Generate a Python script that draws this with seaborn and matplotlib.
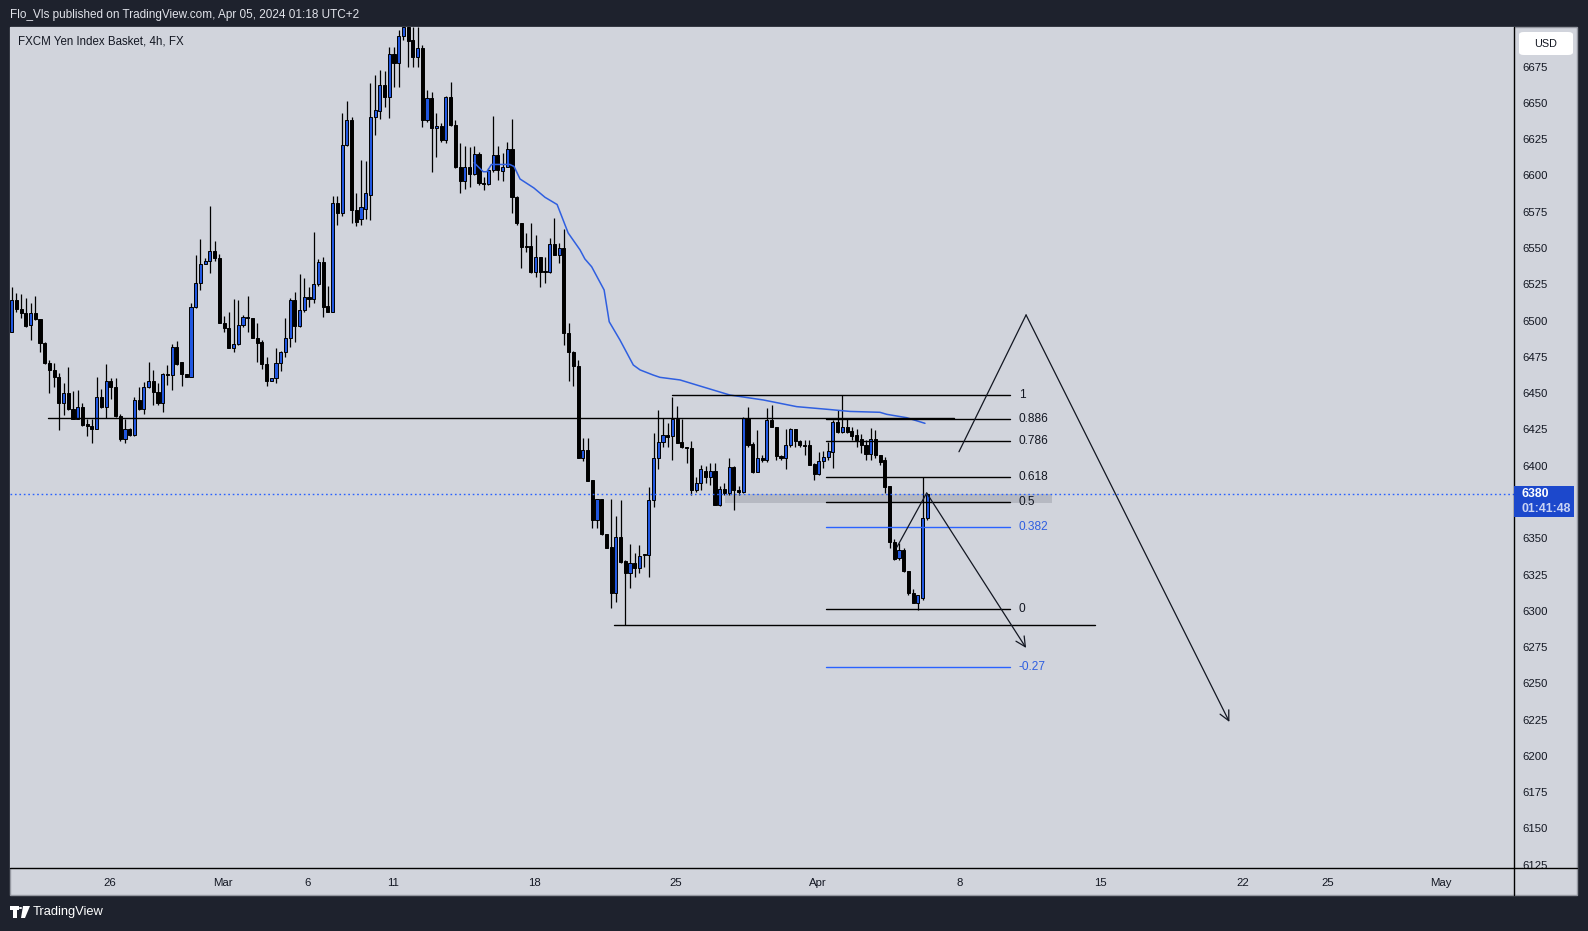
import numpy as np
import pandas as pd
import matplotlib
matplotlib.use("Agg")
import matplotlib.pyplot as plt
import seaborn as sns
from matplotlib.patches import Rectangle, FancyBboxPatch, Polygon
from matplotlib.lines import Line2D

# ---------------- data ----------------
opens = [6492.4, 6514.2, 6507.8, 6505.5, 6497.0, 6505.5, 6500.9, 6484.8, 6471.0, 6466.0,
         6460.9, 6443.5, 6449.9, 6438.9, 6432.2, 6440.3, 6428.5, 6427.4, 6425.1, 6447.2,
         6440.3, 6458.4, 6454.1, 6434.3, 6418.2, 6425.1, 6421.0, 6445.3, 6438.9, 6454.1,
         6458.4, 6451.1, 6443.5, 6463.2, 6462.8, 6481.6, 6471.3, 6463.2, 6461.4, 6509.2,
         6525.7, 6538.8, 6541.1, 6548.0, 6542.9, 6498.6, 6494.7, 6480.9, 6483.9, 6497.0,
         6502.0, 6501.6, 6487.8, 6485.0, 6470.1, 6458.6, 6460.2, 6471.0, 6478.1, 6487.8,
         6514.2, 6496.5, 6507.3, 6516.5, 6514.7, 6525.0, 6540.2, 6510.1, 6505.7, 6580.8,
         6574.0, 6621.1, 6638.3, 6576.3, 6569.8, 6577.0, 6586.8, 6640.1, 6644.7, 6662.4,
         6654.4, 6683.8, 6677.8, 6696.2, 6702.6, 6693.4, 6681.9, 6687.7, 6638.3, 6653.2,
         6632.5, 6634.4, 6624.5, 6654.4, 6634.8, 6605.7, 6596.5, 6606.1, 6601.1, 6614.6,
         6595.1, 6594.2, 6603.8, 6614.2, 6603.3, 6606.1, 6618.3, 6585.4, 6567.5, 6551.6,
         6551.4, 6533.7, 6543.6, 6534.4, 6533.7, 6552.5, 6545.2, 6549.8, 6491.2, 6478.6,
         6468.9, 6405.1, 6410.8, 6390.2, 6362.6, 6376.8, 6352.7, 6343.8, 6312.1, 6350.6,
         6334.3, 6325.8, 6332.7, 6329.3, 6338.5, 6338.5, 6376.4, 6405.1, 6416.6, 6421.2,
         6420.5, 6431.9, 6416.6, 6413.1, 6412.0, 6383.3, 6387.9, 6396.6, 6392.5, 6396.6,
         6373.0, 6384.0, 6381.0, 6398.9, 6383.3, 6381.7, 6432.7, 6415.0, 6395.9, 6405.1,
         6404.0, 6431.5, 6426.9, 6406.7, 6405.1, 6414.3, 6425.1, 6417.1, 6414.3, 6414.3,
         6401.2, 6394.3, 6403.3, 6405.8, 6409.7, 6429.9, 6423.5, 6426.9, 6424.0, 6421.2,
         6418.2, 6414.3, 6408.1, 6418.2, 6407.4, 6404.0, 6386.0, 6347.7, 6336.2, 6341.9,
         6327.7, 6312.1, 6305.7, 6308.6, 6363.8]
highs = [6523.4, 6518.8, 6518.4, 6515.4, 6511.9, 6517.0, 6500.9, 6485.5, 6472.9, 6471.0,
         6463.7, 6456.8, 6467.8, 6451.7, 6452.2, 6443.0, 6432.2, 6432.0, 6461.4, 6452.7,
         6470.1, 6460.3, 6460.3, 6435.7, 6432.0, 6425.8, 6447.6, 6454.5, 6457.9, 6471.7,
         6466.0, 6457.3, 6463.7, 6469.4, 6483.9, 6486.2, 6471.3, 6463.2, 6511.9, 6545.2,
         6556.0, 6542.9, 6579.0, 6554.9, 6545.9, 6503.2, 6506.2, 6514.9, 6514.2, 6503.9,
         6517.0, 6502.0, 6498.1, 6486.6, 6475.2, 6460.2, 6480.9, 6479.0, 6502.0, 6515.4,
         6519.9, 6532.1, 6529.1, 6522.9, 6560.8, 6542.5, 6543.6, 6523.9, 6585.9, 6585.9,
         6642.9, 6651.4, 6640.1, 6588.0, 6610.7, 6610.0, 6663.6, 6669.3, 6672.7, 6672.3,
         6688.8, 6688.8, 6700.3, 6710.0, 6710.0, 6702.6, 6702.6, 6690.0, 6659.0, 6657.8,
         6642.9, 6636.0, 6654.8, 6664.7, 6638.3, 6622.7, 6620.0, 6619.5, 6620.0, 6616.5,
         6599.3, 6605.0, 6641.0, 6620.0, 6615.3, 6623.4, 6639.0, 6585.9, 6567.5, 6560.1,
         6567.0, 6559.0, 6543.6, 6544.0, 6557.1, 6570.5, 6553.2, 6562.9, 6498.1, 6479.0,
         6472.8, 6418.9, 6418.9, 6390.2, 6376.8, 6376.8, 6352.7, 6377.1, 6365.3, 6376.4,
         6335.0, 6346.0, 6339.6, 6345.3, 6338.5, 6385.0, 6422.4, 6438.4, 6432.6, 6429.2,
         6447.6, 6441.1, 6431.9, 6413.1, 6417.1, 6392.5, 6400.5, 6399.8, 6401.7, 6402.1,
         6386.0, 6387.9, 6405.1, 6399.8, 6386.0, 6433.8, 6440.7, 6416.6, 6424.6, 6407.4,
         6439.6, 6441.9, 6426.9, 6407.4, 6425.1, 6426.3, 6425.1, 6417.8, 6417.8, 6417.8,
         6401.7, 6409.7, 6410.2, 6416.6, 6431.5, 6438.4, 6448.8, 6432.0, 6426.9, 6425.0,
         6421.7, 6417.8, 6425.8, 6424.6, 6407.4, 6406.3, 6386.0, 6349.3, 6346.5, 6343.1,
         6327.7, 6314.8, 6310.9, 6392.0, 6381.0]
lows = [6491.9, 6506.2, 6501.6, 6495.9, 6486.7, 6500.4, 6478.6, 6470.1, 6449.9, 6454.1,
        6424.6, 6435.0, 6438.4, 6432.0, 6432.0, 6427.4, 6420.7, 6415.5, 6425.1, 6439.6,
        6432.7, 6445.8, 6433.8, 6417.3, 6415.5, 6420.7, 6420.7, 6438.4, 6435.7, 6453.4,
        6441.9, 6441.9, 6437.3, 6455.7, 6452.2, 6469.4, 6455.0, 6461.4, 6461.4, 6508.5,
        6521.1, 6538.8, 6533.0, 6541.3, 6498.6, 6492.4, 6480.9, 6478.6, 6483.2, 6495.4,
        6492.4, 6487.8, 6471.7, 6466.4, 6455.0, 6458.6, 6456.8, 6465.5, 6475.2, 6482.0,
        6485.5, 6495.4, 6506.2, 6509.6, 6512.4, 6523.9, 6502.3, 6505.7, 6505.7, 6565.9,
        6572.3, 6620.4, 6567.0, 6565.0, 6565.9, 6569.8, 6569.3, 6628.0, 6639.0, 6647.0,
        6639.4, 6661.3, 6661.3, 6693.4, 6675.0, 6675.0, 6675.0, 6633.2, 6637.2, 6602.7,
        6613.0, 6623.4, 6622.7, 6634.2, 6605.0, 6587.8, 6590.5, 6592.4, 6600.4, 6593.5,
        6590.1, 6593.5, 6602.7, 6597.0, 6596.5, 6605.7, 6574.4, 6565.9, 6536.5, 6547.5,
        6533.0, 6530.3, 6523.4, 6526.1, 6533.0, 6545.2, 6539.4, 6483.2, 6458.6, 6455.2,
        6405.1, 6403.2, 6389.7, 6356.8, 6356.8, 6352.2, 6343.5, 6301.7, 6306.3, 6332.8,
        6290.3, 6315.5, 6323.5, 6325.8, 6330.4, 6323.5, 6371.8, 6398.0, 6413.1, 6413.2,
        6403.9, 6415.4, 6412.0, 6401.6, 6379.9, 6382.1, 6383.3, 6387.9, 6386.7, 6373.0,
        6372.3, 6379.9, 6379.9, 6369.5, 6379.9, 6381.0, 6413.2, 6394.8, 6395.9, 6402.8,
        6402.8, 6426.9, 6404.0, 6404.0, 6397.5, 6413.2, 6413.2, 6413.2, 6407.4, 6400.5,
        6390.2, 6393.6, 6398.2, 6404.0, 6398.2, 6422.8, 6422.4, 6422.8, 6417.8, 6413.2,
        6408.6, 6404.1, 6404.0, 6405.1, 6400.5, 6381.0, 6343.1, 6335.1, 6335.1, 6327.0,
        6310.9, 6305.2, 6300.6, 6307.4, 6362.6]
closes = [6514.2, 6507.8, 6505.0, 6496.3, 6505.5, 6500.9, 6484.8, 6471.0, 6466.0, 6460.9,
          6443.5, 6449.9, 6438.9, 6432.2, 6440.3, 6427.9, 6427.4, 6425.1, 6447.2, 6440.3,
          6458.4, 6454.1, 6434.3, 6418.2, 6425.1, 6421.0, 6445.3, 6438.9, 6454.1, 6458.4,
          6451.1, 6443.5, 6463.2, 6462.8, 6481.6, 6470.1, 6463.2, 6461.4, 6509.2, 6525.7,
          6538.8, 6541.1, 6548.0, 6542.9, 6498.6, 6494.7, 6480.9, 6483.9, 6497.0, 6502.3,
          6501.6, 6487.8, 6484.8, 6470.1, 6458.6, 6460.2, 6471.0, 6478.1, 6487.8, 6514.2,
          6496.5, 6507.3, 6516.5, 6514.7, 6525.0, 6540.2, 6509.6, 6505.7, 6580.8, 6573.9,
          6621.1, 6638.3, 6576.3, 6568.0, 6578.3, 6587.6, 6640.6, 6645.2, 6662.4, 6654.4,
          6683.8, 6677.8, 6696.2, 6702.6, 6693.0, 6681.9, 6687.7, 6638.3, 6653.2, 6632.5,
          6634.4, 6624.5, 6654.4, 6634.8, 6605.7, 6596.5, 6606.1, 6601.1, 6614.6, 6594.6,
          6594.2, 6603.8, 6614.2, 6603.8, 6606.1, 6618.3, 6585.5, 6567.5, 6550.9, 6550.9,
          6533.7, 6543.6, 6533.7, 6533.5, 6552.5, 6545.2, 6549.8, 6491.2, 6478.6, 6468.9,
          6405.1, 6410.8, 6389.7, 6362.6, 6376.8, 6352.7, 6343.5, 6312.1, 6350.6, 6333.9,
          6325.8, 6332.7, 6329.3, 6338.0, 6338.2, 6376.4, 6405.1, 6416.6, 6421.2, 6420.0,
          6431.9, 6415.9, 6412.7, 6412.0, 6383.3, 6388.3, 6397.5, 6392.0, 6396.6, 6373.0,
          6384.0, 6381.0, 6398.9, 6383.3, 6381.7, 6432.7, 6414.3, 6395.9, 6405.1, 6404.0,
          6431.5, 6426.9, 6406.7, 6405.1, 6414.3, 6425.1, 6417.1, 6414.3, 6413.8, 6400.5,
          6394.3, 6403.3, 6405.8, 6410.2, 6429.9, 6423.5, 6426.9, 6423.5, 6420.5, 6417.8,
          6414.3, 6408.1, 6418.2, 6407.4, 6402.8, 6385.6, 6347.7, 6335.5, 6341.9, 6327.7,
          6312.1, 6305.7, 6310.9, 6363.8, 6380.5]

first_bar_day = -3.46      # trading-day position of first 4h bar (0 = Feb 26)
bars_per_day = 6

ma_days = [12.87, 13.19, 13.32, 13.48, 14.13, 14.28, 14.49, 14.98, 15.37, 15.80, 16.19,
           16.61, 16.78, 17.02, 17.46, 17.64, 18.02, 18.49, 18.73, 19.19, 19.43, 20.14,
           20.73, 21.90, 23.08, 24.26, 25.43, 26.14, 27.20, 27.44, 28.14, 28.79]
ma_values = [6608.8, 6602.6, 6602.6, 6607.6, 6607.6, 6606.2, 6597.6, 6591.4, 6585.0, 6580.0,
             6560.4, 6548.7, 6542.5, 6537.1, 6521.1, 6499.2, 6486.6, 6469.4, 6466.0, 6462.5,
             6460.9, 6459.1, 6455.6, 6448.7, 6445.3, 6440.7, 6438.7, 6437.4, 6436.8, 6435.4,
             6433.1, 6429.2]

price_ticks = [6125, 6150, 6175, 6200, 6225, 6250, 6275, 6300, 6325, 6350,
               6400, 6425, 6450, 6475, 6500, 6525, 6550, 6575, 6600, 6625, 6650, 6675]
date_tick_days = [0, 4, 7, 10, 15, 20, 25, 30, 35, 40, 43, 47]
date_tick_labels = ["26", "Mar", "6", "11", "18", "25", "Apr", "8", "15", "22", "25", "May"]

fib_low, fib_high = 6301.0, 6449.0
fib_levels = [1, 0.886, 0.786, 0.618, 0.5, 0.382, 0, -0.27]
fib_texts = ["1", "0.886", "0.786", "0.618", "0.5", "0.382", "0", "-0.27"]
fib_blue = [False, False, False, False, False, True, False, True]

support_price = 6432.6
base_price = 6290.3
last_price = 6380.4
band_low, band_high = 6374.0, 6380.5

path1_days = [27.80, 28.85, 32.36]
path1_prices = [6343.9, 6381.2, 6274.4]
path2_days = [29.99, 32.36, 39.54]
path2_prices = [6409.6, 6503.9, 6223.4]

# ---------------- figure ----------------
W, H = 1588, 931
sns.set_style("white")
plt.rcParams['font.family'] = ['Liberation Sans', 'DejaVu Sans']

DARK = '#1e222d'
LIGHT = '#d1d4dc'
INK = '#131722'
BLUE = '#2157e0'
LBLUE = '#2962ff'

fig = plt.figure(figsize=(W / 100, H / 100), dpi=100)
fig.patch.set_facecolor(DARK)

def fx(px):
    return px / W

def fy(py):
    return 1 - py / H

# light panel
fig.add_artist(Rectangle((fx(10), fy(895)), fx(1577) - fx(10), fy(27) - fy(895),
                         transform=fig.transFigure, facecolor=LIGHT,
                         edgecolor='#9598a1', lw=1, zorder=0))

ax = fig.add_axes([fx(10), fy(868), fx(1514) - fx(10), fy(27) - fy(868)])
ax.set_facecolor(LIGHT)
for s in ax.spines.values():
    s.set_visible(False)

xmin, xmax = -3.52, 49.59
ymin, ymax = 6122.74, 6702.34
ax.set_xlim(xmin, xmax)
ax.set_ylim(ymin, ymax)

df = pd.DataFrame({"open": opens, "high": highs, "low": lows, "close": closes})
df["day"] = first_bar_day + np.arange(len(df)) / bars_per_day
df["up"] = df["close"] >= df["open"]

# gray band (behind candles)
ax.add_patch(Rectangle((21.73, band_low), 33.26 - 21.73, band_high - band_low,
                       facecolor='#b6b9c2', edgecolor='none', zorder=1))

# wicks
ax.vlines(df["day"], df["low"], df["high"], color='black', lw=0.9, zorder=3)
# bodies
body_bottom = np.minimum(df["open"], df["close"])
body_h = np.maximum(np.abs(df["close"] - df["open"]), 0.7)
colors = np.where(df["up"], BLUE, 'black')
ax.bar(df["day"], body_h, bottom=body_bottom, width=0.11, color=colors,
       edgecolor='black', linewidth=0.7, zorder=4)

# moving average
sns.lineplot(x=ma_days, y=ma_values, ax=ax, color='#2f5fe0', lw=1.1, zorder=5)

# long horizontal support
ax.plot([-2.19, 29.81], [support_price, support_price], color='black', lw=1, zorder=6)
# base line
ax.plot([17.81, 34.78], [base_price, base_price], color='black', lw=1, zorder=6)

# fib lines
for lvl, txt, isb in zip(fib_levels, fib_texts, fib_blue):
    p = fib_low + lvl * (fib_high - fib_low)
    c = LBLUE if isb else 'black'
    x0 = 19.84 if lvl == 1 else 25.31
    ax.plot([x0, 31.81], [p, p], color=c, lw=1, zorder=6)
    ax.text(32.11, p, txt, color=('#2f5fe0' if isb else INK), fontsize=8.6,
            ha='left', va='center', zorder=7)

# current price dotted line
ax.axhline(last_price, color=LBLUE, lw=1, ls=(0, (1.2, 2.0)), zorder=6)

# drawn paths with arrows
for dd, pp in ((path1_days, path1_prices), (path2_days, path2_prices)):
    ax.plot(dd[:2], pp[:2], color=INK, lw=0.9, zorder=7)
    ax.annotate('', xy=(dd[2], pp[2]), xytext=(dd[1], pp[1]),
                arrowprops=dict(arrowstyle='->,head_length=0.7,head_width=0.35',
                                color=INK, lw=0.9, shrinkA=0, shrinkB=0), zorder=7)

# axes ticks
ax.yaxis.tick_right()
ax.set_yticks(price_ticks)
ax.set_yticklabels([str(t) for t in price_ticks])
ax.tick_params(axis='y', length=0, pad=6, labelsize=8.2, labelcolor=INK)
ax.set_xticks(date_tick_days)
ax.set_xticklabels(date_tick_labels)
ax.tick_params(axis='x', length=0, pad=7, labelsize=8.2, labelcolor=INK)
ax.set_xlabel('')
ax.set_ylabel('')

# frame lines
fig.add_artist(Line2D([fx(1514), fx(1514)], [fy(27), fy(895)], transform=fig.transFigure,
                      color='black', lw=1, zorder=10))
fig.add_artist(Line2D([fx(10), fx(1577)], [fy(868), fy(868)], transform=fig.transFigure,
                      color='black', lw=1, zorder=10))

# USD box
fig.add_artist(FancyBboxPatch((fx(1519), fy(55)), fx(1573) - fx(1519), fy(32) - fy(55),
                              boxstyle='round,pad=0,rounding_size=0.003',
                              transform=fig.transFigure, facecolor='white',
                              edgecolor='none', zorder=11))
fig.text(fx(1546), fy(44), "USD", fontsize=7.8, color=INK, ha='center', va='center', zorder=12)

# last price box
fig.add_artist(Rectangle((fx(1514), fy(517)), fx(1574) - fx(1514), fy(486) - fy(517),
                         transform=fig.transFigure, facecolor='#1c48cc',
                         edgecolor='none', zorder=11))
fig.text(fx(1522), fy(494), "6380", fontsize=8.8, color='white', fontweight='bold',
         ha='left', va='center', zorder=12)
fig.text(fx(1522), fy(509.5), "01:41:48", fontsize=8.8, color='#c9d3f4', fontweight='bold',
         ha='left', va='center', zorder=12)

# header texts
fig.text(fx(10), fy(15), "Flo_Vls published on TradingView.com, Apr 05, 2024 01:18 UTC+2",
         fontsize=8.5, color='#e1e3ea', ha='left', va='center')
fig.text(fx(18), fy(41), "FXCM Yen Index Basket, 4h, FX", fontsize=8.3, color=INK,
         ha='left', va='center', zorder=12)

# TradingView watermark
logo = [
    [(10, 906), (19, 906), (19, 909.5), (16.5, 909.5), (16.5, 918), (13, 918), (13, 909.5), (10, 909.5)],
    [(23, 906), (30, 906), (25, 918), (21, 918)],
]
for pts in logo:
    fig.add_artist(Polygon([(fx(a), fy(b)) for a, b in pts], closed=True,
                           transform=fig.transFigure, facecolor='white', edgecolor='none'))
fig.add_artist(plt.Circle((fx(20.5), fy(908)), 1.6 / W, transform=fig.transFigure,
                          facecolor='white', edgecolor='none'))
fig.text(fx(33), fy(912.5), "TradingView", fontsize=9.3, color='white', ha='left', va='center')

fig.savefig("out.png", dpi=100, facecolor=fig.get_facecolor())
